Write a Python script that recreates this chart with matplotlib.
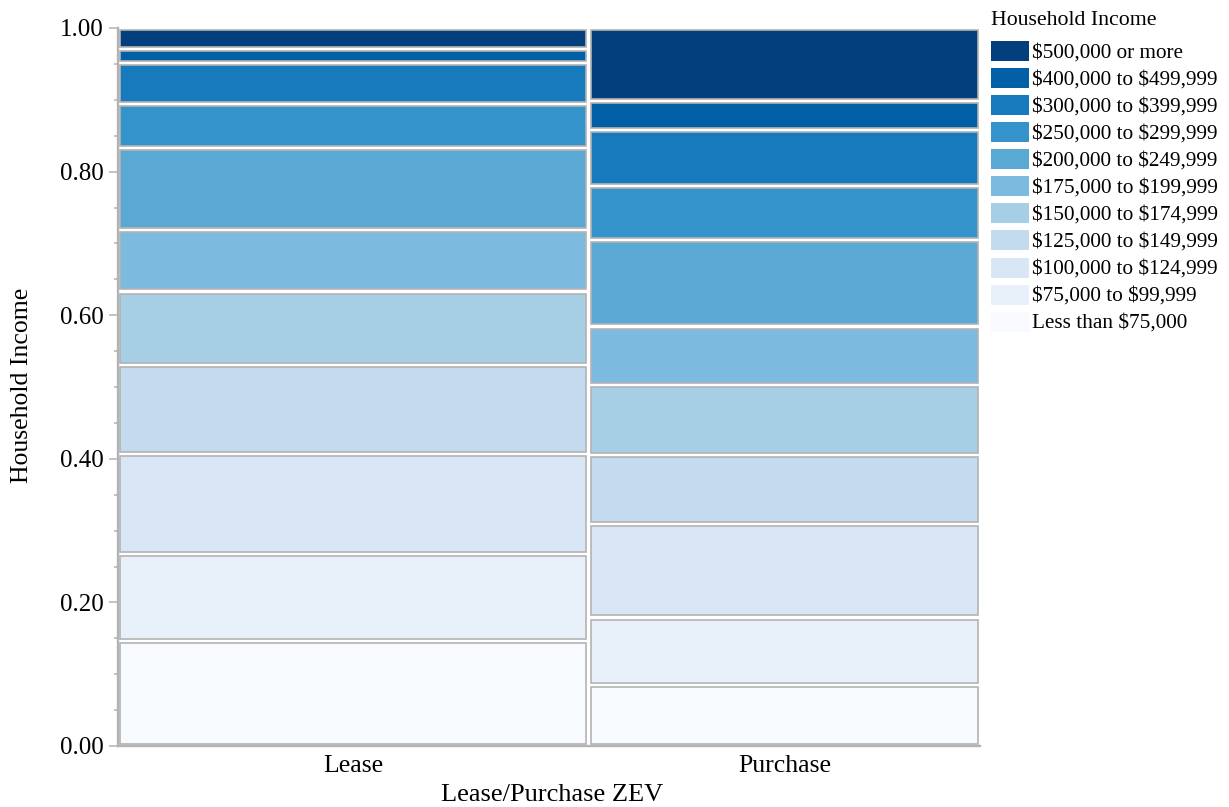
import matplotlib
matplotlib.use("Agg")
import matplotlib.pyplot as plt
import numpy as np
from matplotlib.ticker import MultipleLocator, FormatStrFormatter

plt.rcParams['font.family'] = ['Liberation Serif', 'DejaVu Serif']
plt.rcParams['text.parse_math'] = False  # labels contain "$"

# data: share of each income bracket within each group (bottom to top)
groups = ["Lease", "Purchase"]
group_share = [0.546, 0.454]
brackets = ["Less than $75,000", "$75,000 to $99,999", "$100,000 to $124,999",
            "$125,000 to $149,999", "$150,000 to $174,999", "$175,000 to $199,999",
            "$200,000 to $249,999", "$250,000 to $299,999", "$300,000 to $399,999",
            "$400,000 to $499,999", "$500,000 or more"]
lease = [0.146, 0.121, 0.140, 0.124, 0.102, 0.086, 0.114, 0.061, 0.057, 0.020, 0.029]
purchase = [0.085, 0.094, 0.130, 0.096, 0.098, 0.081, 0.121, 0.075, 0.078, 0.040, 0.102]
colors = ["#f7fbff", "#e8f0fa", "#d8e6f5", "#c4daee", "#a6cfe5", "#7cbadf",
          "#5aa8d4", "#3593cb", "#177abd", "#015fa5", "#033f7d"]

fig = plt.figure(figsize=(12.29, 8.07), dpi=100)
ax = fig.add_axes([118 / 1229, 61 / 807, 862 / 1229, 718 / 807])
ax.set_xlim(0, 1)
ax.set_ylim(0, 1)

# padding of the tiles, in data units (about 2 px)
pad_x = 2.2 / 862
pad_y = 2.2 / 718
edge = '#b3b3b3'

widths = np.array(group_share) / np.sum(group_share)
lefts = np.concatenate([[0], np.cumsum(widths)[:-1]])
for g, (left, w, vals) in enumerate(zip(lefts, widths, [lease, purchase])):
    vals = np.array(vals) / np.sum(vals)
    bottoms = np.concatenate([[0], np.cumsum(vals)[:-1]])
    for b, v, c in zip(bottoms, vals, colors):
        ax.bar(left + pad_x, v - 2 * pad_y, width=w - 2 * pad_x, bottom=b + pad_y,
               align='edge', color=c, edgecolor=edge, linewidth=1.2)

# axes styling
for s in ['top', 'right']:
    ax.spines[s].set_visible(False)
for s in ['left', 'bottom']:
    ax.spines[s].set_color(edge)
    ax.spines[s].set_linewidth(1.7)

ax.yaxis.set_major_locator(MultipleLocator(0.2))
ax.yaxis.set_minor_locator(MultipleLocator(0.05))
ax.yaxis.set_major_formatter(FormatStrFormatter('%.2f'))
ax.tick_params(axis='y', which='major', length=6.5, width=1.1, color=edge,
               labelsize=18, pad=4)
ax.tick_params(axis='y', which='minor', length=3, width=1.1, color=edge)
ax.set_xticks(lefts + widths / 2)
ax.set_xticklabels(groups)
ax.tick_params(axis='x', length=0, labelsize=18.5, pad=6.5)

fig.text(22 / 1229, 1 - 385 / 807, "Household Income", rotation=90,
         ha='center', va='center', fontsize=18.5)
fig.text(552 / 1229, 1 - 801 / 807, "Lease/Purchase ZEV", ha='center',
         va='baseline', fontsize=19)

# legend drawn by hand (top bracket first)
fig.text(991 / 1229, 1 - 25 / 807, "Household Income", ha='left', va='baseline',
         fontsize=15.7)
for i, (lab, c) in enumerate(zip(brackets[::-1], colors[::-1])):
    top = 41 + 27.07 * i
    fig.patches.append(plt.Rectangle((991 / 1229, 1 - (top + 20) / 807), 38 / 1229,
                                     20 / 807, transform=fig.transFigure,
                                     facecolor=c, edgecolor='none'))
    fig.text(1032 / 1229, 1 - (top + 16.3) / 807, lab, ha='left', va='baseline',
             fontsize=15.3)

fig.savefig("out.png", dpi=100)
